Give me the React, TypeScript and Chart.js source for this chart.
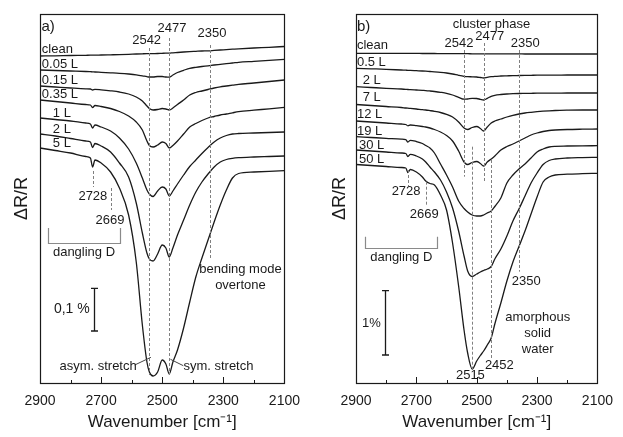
import React, { useEffect, useRef } from 'react';
import { Chart, registerables } from 'chart.js';

Chart.register(...registerables);

// ---------- Panel a) data (ΔR/R offset, arbitrary units: 43 units = 0.1 %) ----------
const WA = [2900, 2850, 2800, 2750, 2735, 2728, 2720, 2700, 2669, 2640, 2610, 2585, 2565, 2550, 2542, 2530, 2515, 2500, 2488, 2477, 2465, 2450, 2430, 2410, 2390, 2370, 2350, 2330, 2310, 2290, 2270, 2250, 2200, 2150, 2100];
const A_LABELS = ['clean', '0.05 L', '0.15 L', '0.35 L', '1 L', '2 L', '5 L'];
const A_CLEAN = [-42, -41.8, -41.5, -41.3, -41.2, -41.2, -41.1, -41, -40.8, -40.6, -40.3, -40, -39.8, -39.7, -39.7, -39.6, -39.5, -39.3, -39.2, -39.2, -38.8, -38.5, -38, -37.6, -37.3, -37, -36.8, -36.4, -36, -35.6, -35.2, -34.8, -34, -33.3, -32.5];
const A_005 = [-56, -56.5, -57, -57.5, -57.7, -57.8, -58, -58.3, -58.8, -59.3, -60, -60.8, -61.8, -62.7, -63, -63, -62.5, -62.5, -63, -63.2, -61, -58.5, -56.3, -54.3, -53.3, -52.5, -51.8, -51, -50.3, -49.6, -49, -48.3, -47.3, -46.3, -45.3];
const A_015 = [-72, -73, -74, -74.8, -75, -76, -75.3, -75.8, -76.8, -78, -80, -83, -87, -92, -94.5, -96, -95.5, -94.5, -95, -96, -94, -90.5, -86, -81, -78.5, -77, -75.5, -74, -72.8, -72, -71.2, -70.3, -69, -67.5, -66];
const A_035 = [-86, -87.5, -89, -90.5, -91, -93.5, -91.5, -92.5, -94.5, -97.5, -102, -108, -116, -127, -131.5, -133, -131, -128, -129.5, -134, -131.5, -127, -120, -113, -109.5, -106.5, -104, -102.5, -101, -100, -98.8, -97.7, -96.2, -94.8, -93.3];
const A_1 = [-104, -105.5, -107, -109, -110, -114, -111, -113, -117, -124, -135, -149, -164, -176, -180, -182.5, -177, -173, -175, -182, -177, -170, -161, -152.5, -146, -139.5, -133.5, -128, -124, -121.5, -120, -119.5, -119, -118.5, -118];
const A_2 = [-120, -122, -124.5, -127, -128, -133.5, -129.5, -132, -138, -149, -163, -189, -219, -239, -245, -247, -240, -231, -234, -243, -234, -221, -206, -191, -178, -168, -160, -153, -148, -145.5, -144.3, -143.7, -143, -142.5, -142];
const A_5 = [-134, -136.5, -139, -142.5, -144, -153, -146, -149, -158, -174, -201, -248, -311, -348, -358, -362, -358, -346, -350, -360, -348, -336, -314, -288, -263, -244, -226, -208, -191, -176, -164, -159.5, -158, -157.3, -156.7];
const A_SERIES = [A_CLEAN, A_005, A_015, A_035, A_1, A_2, A_5];

// ---------- Panel b) data (ΔR/R offset, arbitrary units: 64 units = 1 %) ----------
const WB = [2900, 2850, 2800, 2750, 2735, 2728, 2720, 2700, 2680, 2669, 2655, 2640, 2620, 2600, 2580, 2560, 2542, 2530, 2515, 2500, 2488, 2477, 2465, 2452, 2440, 2420, 2400, 2380, 2360, 2340, 2320, 2300, 2280, 2260, 2240, 2200, 2150, 2100];
const B_LABELS = ['clean', '0.5 L', '2 L', '7 L', '12 L', '19 L', '30 L', '50 L'];
const B_CLEAN = [-39.3, -39.3, -39.3, -39.4, -39.4, -39.4, -39.4, -39.4, -39.5, -39.5, -39.5, -39.5, -39.6, -39.6, -39.6, -39.7, -39.7, -39.7, -39.8, -39.8, -39.8, -39.8, -39.8, -39.8, -39.9, -39.9, -39.9, -39.9, -39.9, -40, -40, -40, -40, -40, -40, -40, -40, -40];
const B_05 = [-54.3, -54.8, -55.3, -56, -56.2, -56.3, -56.4, -56.7, -57, -57.2, -57.5, -57.8, -58.3, -59, -60, -61.3, -62.3, -62.7, -62.8, -63, -63.5, -64, -63.3, -62.7, -62.3, -62, -61.8, -61.6, -61.5, -61.4, -61.3, -61.2, -61.2, -61.1, -61.1, -61, -61, -61];
const B_2 = [-72.7, -73.5, -74.3, -75, -75.3, -75.5, -75.6, -76, -76.4, -76.6, -77, -77.5, -78.3, -79.3, -81, -83.3, -85.2, -85, -84.3, -84.5, -85.3, -86, -84.3, -82.3, -81.3, -80.5, -80, -79.7, -79.5, -79.4, -79.3, -79.2, -79.2, -79.1, -79.1, -79, -79, -79];
const B_7 = [-90.5, -91.5, -92.5, -93.5, -94, -94.2, -94.4, -95, -95.7, -96, -96.6, -97.3, -98.5, -100.3, -103, -108, -114, -115.5, -113.5, -112.5, -114.5, -117, -113, -109, -107, -105, -103, -101.3, -100, -99, -98.3, -97.7, -97.2, -96.8, -96.5, -96.2, -96, -96];
const B_12 = [-107, -108, -109, -110, -110.5, -111.8, -111, -111.7, -112.5, -113, -114, -115.5, -118, -121.5, -127, -137, -148, -150.5, -148.5, -147.5, -149.5, -152, -148, -145, -142, -136, -132.5, -130, -127, -124, -121, -119, -117.5, -116.5, -116, -115.5, -115.2, -115];
const B_19 = [-122.7, -123.5, -124.3, -125.2, -125.6, -128, -126.3, -127.5, -129.5, -131.5, -134, -139, -150, -161, -173, -187, -194.5, -198, -201, -202, -202, -201, -199, -197, -192.5, -184, -169, -161, -155, -150, -144, -138, -135, -133, -132.3, -132, -131.8, -131.7];
const B_30 = [-136, -137, -138, -139, -139.5, -142.5, -140.3, -142, -145, -148, -153, -158, -166, -178, -194, -217, -242, -257, -262.5, -260, -258, -256.5, -255, -252.5, -245, -235, -222, -207, -195, -182, -169, -159, -150.5, -146.5, -145, -144, -143.6, -143.3];
const B_50 = [-150.5, -151.5, -152.5, -153.5, -154, -158.5, -155.5, -158, -163, -167, -169.5, -171, -181, -196, -229, -272, -316, -339, -355, -347, -341.5, -337, -331, -324, -310, -289, -267, -248, -232.5, -217, -200, -183, -168, -163, -161, -160.2, -159.7, -159.3];
const B_SERIES = [B_CLEAN, B_05, B_2, B_7, B_12, B_19, B_30, B_50];

// ---------- axis ----------
const X_MIN = 2100;
const X_MAX = 2900;
const X_LABELED = [2900, 2700, 2500, 2300, 2100];
const X_TICK_STEP = 100;
const Y_MIN = -369;
const Y_MAX = 0;

const FONT = '"Liberation Sans", Arial, Helvetica, sans-serif';
const INK = '#1a1a1a';

type Txt = { t: string; x: number; y: number; a?: CanvasTextAlign; s?: number };
type Seg = [number, number, number, number];
type Spec = {
  W: number[];
  series: number[][];
  curveLabels: Txt[];
  texts: Txt[];
  dashed: Seg[];
  leaders: Seg[];
  bracket: { x1: number; x2: number; yTop: number; yBot: number };
  bar: { x: number; y1: number; y2: number };
  yTitlePad: number;
  yWidth: number;
  padRight: number;
};

const SPEC_A: Spec = {
  W: WA,
  series: A_SERIES,
  curveLabels: [
    { t: A_LABELS[0], x: 2894, y: -35, a: 'left' },
    { t: A_LABELS[1], x: 2894, y: -50, a: 'left' },
    { t: A_LABELS[2], x: 2894, y: -66, a: 'left' },
    { t: A_LABELS[3], x: 2894, y: -80.5, a: 'left' },
    { t: A_LABELS[4], x: 2858, y: -99, a: 'left' },
    { t: A_LABELS[5], x: 2858, y: -115, a: 'left' },
    { t: A_LABELS[6], x: 2858, y: -129, a: 'left' },
  ],
  texts: [
    { t: 'a)', x: 2895, y: -13, a: 'left', s: 15 },
    { t: '2542', x: 2551, y: -26 },
    { t: '2477', x: 2468, y: -14 },
    { t: '2350', x: 2337, y: -19 },
    { t: '2728', x: 2727, y: -182 },
    { t: '2669', x: 2671, y: -206.7 },
    { t: 'dangling D', x: 2756, y: -238 },
    { t: 'bending mode', x: 2244, y: -255.3 },
    { t: 'overtone', x: 2244, y: -271 },
    { t: '0,1 %', x: 2796, y: -295.5, s: 14 },
    { t: 'asym. stretch', x: 2710, y: -352.7 },
    { t: 'sym. stretch', x: 2316, y: -352.7 },
  ],
  dashed: [
    [2542, -34, 2542, -361],
    [2477, -24, 2477, -361],
    [2345, -31, 2345, -244],
    [2728, -157, 2728, -173],
    [2669, -174, 2669, -196],
  ],
  leaders: [
    [2590, -351, 2537, -343.3],
    [2473, -345.3, 2431, -351.7],
  ],
  bracket: { x1: 2873, x2: 2639, yTop: -214, yBot: -229.3 },
  bar: { x: 2724, y1: -274.3, y2: -317 },
  yTitlePad: 11,
  yWidth: 40,
  padRight: 20,
};

const SPEC_B: Spec = {
  W: WB,
  series: B_SERIES,
  curveLabels: [
    { t: B_LABELS[0], x: 2897, y: -31.7, a: 'left' },
    { t: B_LABELS[1], x: 2897, y: -48.7, a: 'left' },
    { t: B_LABELS[2], x: 2878, y: -66, a: 'left' },
    { t: B_LABELS[3], x: 2878, y: -83.7, a: 'left' },
    { t: B_LABELS[4], x: 2897, y: -100.3, a: 'left' },
    { t: B_LABELS[5], x: 2897, y: -117, a: 'left' },
    { t: B_LABELS[6], x: 2890, y: -131.7, a: 'left' },
    { t: B_LABELS[7], x: 2890, y: -145, a: 'left' },
  ],
  texts: [
    { t: 'b)', x: 2897, y: -12.7, a: 'left', s: 15 },
    { t: 'cluster phase', x: 2451, y: -10 },
    { t: '2542', x: 2559, y: -29.3 },
    { t: '2477', x: 2457, y: -22.7 },
    { t: '2350', x: 2339, y: -29.3 },
    { t: '2728', x: 2734, y: -177.7 },
    { t: '2669', x: 2674, y: -200 },
    { t: 'dangling D', x: 2750, y: -243.3 },
    { t: '2350', x: 2336, y: -267.7 },
    { t: '2515', x: 2521, y: -361 },
    { t: '2452', x: 2425, y: -351 },
    { t: '1%', x: 2849, y: -309.3 },
    { t: 'amorphous', x: 2298, y: -303.3 },
    { t: 'solid', x: 2298, y: -319.3 },
    { t: 'water', x: 2298, y: -335 },
  ],
  dashed: [
    [2542, -36, 2542, -162.7],
    [2477, -29, 2477, -167.7],
    [2361, -36, 2361, -257.7],
    [2515, -132.7, 2515, -355],
    [2452, -146, 2452, -344],
    [2728, -156, 2728, -172.7],
    [2669, -167.7, 2669, -192.7],
  ],
  leaders: [],
  bracket: { x1: 2869, x2: 2632, yTop: -222.7, yBot: -234.3 },
  bar: { x: 2804, y1: -276.7, y2: -341 },
  yTitlePad: 19,
  yWidth: 46,
  padRight: 16,
};

function makeAnnotPlugin(spec: Spec) {
  return {
    id: 'annot',
    afterDraw(chart: any) {
      const { ctx, chartArea } = chart;
      const xs = chart.scales.x;
      const ys = chart.scales.y;
      const X = (v: number) => xs.getPixelForValue(v);
      const Y = (v: number) => ys.getPixelForValue(v);
      ctx.save();

      // frame
      ctx.strokeStyle = INK;
      ctx.lineWidth = 1.2;
      ctx.strokeRect(Math.round(chartArea.left) + 0.5, Math.round(chartArea.top) + 0.5,
        Math.round(chartArea.right - chartArea.left), Math.round(chartArea.bottom - chartArea.top));

      // ticks (inside, on bottom axis)
      ctx.lineWidth = 1;
      for (let w = X_MIN; w <= X_MAX; w += X_TICK_STEP) {
        const major = X_LABELED.includes(w);
        const px = Math.round(X(w)) + 0.5;
        ctx.beginPath();
        ctx.moveTo(px, chartArea.bottom);
        ctx.lineTo(px, chartArea.bottom - (major ? 6 : 3));
        ctx.stroke();
      }

      // dashed guide lines
      ctx.strokeStyle = '#808080';
      ctx.lineWidth = 1;
      ctx.setLineDash([3, 2]);
      for (const [x1, y1, x2, y2] of spec.dashed) {
        ctx.beginPath();
        ctx.moveTo(Math.round(X(x1)) + 0.5, Y(y1));
        ctx.lineTo(Math.round(X(x2)) + 0.5, Y(y2));
        ctx.stroke();
      }
      ctx.setLineDash([]);

      // leader lines
      ctx.strokeStyle = '#444';
      for (const [x1, y1, x2, y2] of spec.leaders) {
        ctx.beginPath();
        ctx.moveTo(X(x1), Y(y1));
        ctx.lineTo(X(x2), Y(y2));
        ctx.stroke();
      }

      // bracket (dangling D)
      const b = spec.bracket;
      ctx.strokeStyle = '#8a8a8a';
      ctx.lineWidth = 1.2;
      ctx.beginPath();
      ctx.moveTo(Math.round(X(b.x1)) + 0.5, Y(b.yTop));
      ctx.lineTo(Math.round(X(b.x1)) + 0.5, Math.round(Y(b.yBot)) + 0.5);
      ctx.lineTo(Math.round(X(b.x2)) + 0.5, Math.round(Y(b.yBot)) + 0.5);
      ctx.lineTo(Math.round(X(b.x2)) + 0.5, Y(b.yTop));
      ctx.stroke();

      // scale bar
      const s = spec.bar;
      const bx = Math.round(X(s.x)) + 0.5;
      ctx.strokeStyle = INK;
      ctx.lineWidth = 1.3;
      ctx.beginPath();
      ctx.moveTo(bx, Y(s.y1));
      ctx.lineTo(bx, Y(s.y2));
      ctx.moveTo(bx - 3.5, Y(s.y1));
      ctx.lineTo(bx + 3.5, Y(s.y1));
      ctx.moveTo(bx - 3.5, Y(s.y2));
      ctx.lineTo(bx + 3.5, Y(s.y2));
      ctx.stroke();

      // texts
      ctx.fillStyle = INK;
      ctx.textBaseline = 'middle';
      for (const t of [...spec.curveLabels, ...spec.texts]) {
        ctx.font = `${t.s ?? 13}px ${FONT}`;
        ctx.textAlign = t.a ?? 'center';
        ctx.fillText(t.t, X(t.x), Y(t.y));
      }
      ctx.restore();
    },
  };
}

function Panel({ spec, left, width }: { spec: Spec; left: number; width: number }) {
  const ref = useRef<HTMLCanvasElement>(null);
  useEffect(() => {
    const canvas = ref.current;
    if (!canvas) return;
    const chart = new Chart(canvas, {
      type: 'line',
      data: {
        datasets: spec.series.map((ser) => ({
          data: spec.W.map((w, i) => ({ x: w, y: ser[i] })),
          borderColor: INK,
          borderWidth: 1.3,
          pointRadius: 0,
          fill: false,
          cubicInterpolationMode: 'monotone' as const,
        })),
      },
      options: {
        animation: false,
        responsive: false,
        events: [],
        layout: { padding: { top: 14, right: spec.padRight, left: 0, bottom: 0 } },
        plugins: { legend: { display: false }, tooltip: { enabled: false } },
        scales: {
          x: {
            type: 'linear',
            min: X_MIN,
            max: X_MAX,
            reverse: true,
            afterFit: (sc: any) => { sc.height = 54; },
            afterBuildTicks: (sc: any) => { sc.ticks = X_LABELED.map((v) => ({ value: v })); },
            ticks: {
              font: { family: FONT, size: 14 },
              color: INK,
              padding: 10,
              maxRotation: 0,
              autoSkip: false,
              callback: (v: any) => String(v),
            },
            grid: { display: false, drawTicks: false },
            border: { display: false },
            title: {
              display: true,
              text: 'Wavenumber [cm\u207B\u00B9]',
              font: { family: FONT, size: 17 },
              color: INK,
              padding: { top: 0, bottom: 4 },
            },
          },
          y: {
            type: 'linear',
            min: Y_MIN,
            max: Y_MAX,
            afterFit: (sc: any) => { sc.width = spec.yWidth; },
            ticks: { display: false },
            grid: { display: false, drawTicks: false },
            border: { display: false },
            title: {
              display: true,
              text: '\u0394R/R',
              font: { family: FONT, size: 18 },
              color: INK,
              padding: { top: spec.yTitlePad, bottom: 0 },
            },
          },
        },
      },
      plugins: [makeAnnotPlugin(spec)],
    } as any);
    return () => chart.destroy();
  }, [spec]);
  return (
    <canvas
      ref={ref}
      width={width}
      height={437}
      style={{ position: 'absolute', left, top: 0, width, height: 437 }}
    />
  );
}

export default function App() {
  return (
    <div style={{ position: 'absolute', left: 0, top: 0, width: 623, height: 437, background: '#fff', overflow: 'hidden' }}>
      <Panel spec={SPEC_A} left={0} width={310} />
      <Panel spec={SPEC_B} left={310} width={313} />
    </div>
  );
}
